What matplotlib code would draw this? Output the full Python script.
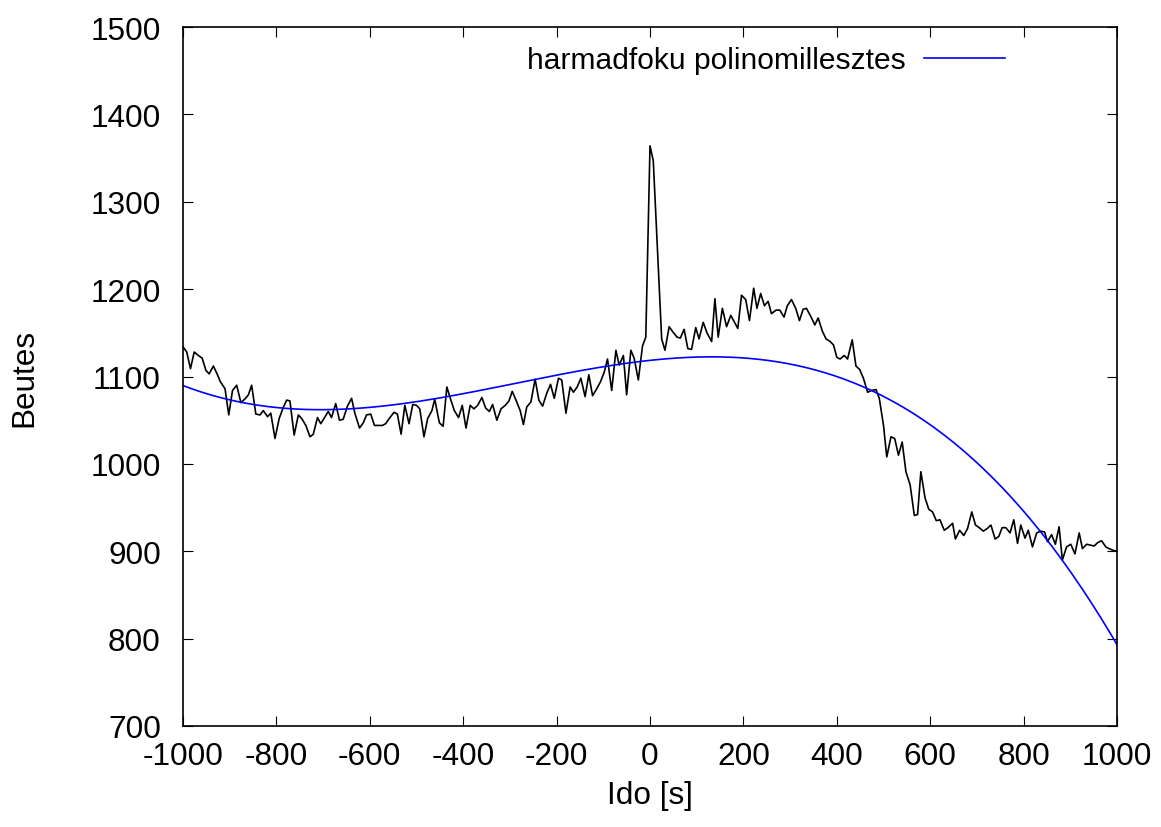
import numpy as np
import matplotlib
matplotlib.use("Agg")
import matplotlib.pyplot as plt

plt.rcParams['font.family'] = ['Liberation Sans', 'DejaVu Sans']
plt.rcParams['axes.unicode_minus'] = False

# Measured counts (Beutes) vs time (Ido [s])
ido = [-1000, -992, -984, -976, -967, -959, -951, -944, -935, -927, -920, -910, -902, -894, -885,
       -876, -866, -860, -853, -844, -835, -828, -819, -812, -803, -794, -785, -778, -771, -762,
       -753, -746, -737, -728, -721, -712, -705, -698, -689, -682, -673, -665, -657, -648, -639,
       -632, -622, -614, -607, -598, -590, -583, -573, -566, -557, -548, -541, -533, -525, -516,
       -508, -500, -493, -484, -476, -467, -461, -451, -443, -435, -427, -419, -410, -402, -394,
       -385, -377, -369, -360, -352, -344, -337, -328, -319, -310, -302, -295, -287, -278, -271,
       -264, -255, -246, -238, -230, -221, -213, -205, -196, -189, -180, -171, -164, -156, -148,
       -139, -131, -123, -114, -106, -98, -91, -82, -73, -66, -57, -50, -41, -34, -25,
       -16, -9, 0, 7, 25, 32, 41, 49, 58, 65, 73, 81, 89, 98, 105,
       114, 122, 132, 139, 146, 155, 164, 173, 181, 188, 196, 205, 213, 222, 229,
       237, 245, 253, 260, 270, 278, 287, 294, 303, 312, 320, 328, 335, 345, 353,
       360, 369, 377, 386, 393, 400, 407, 416, 423, 433, 441, 449, 457, 466, 474,
       484, 491, 500, 507, 516, 524, 532, 540, 548, 557, 566, 573, 580, 589, 597,
       605, 613, 621, 630, 638, 648, 654, 663, 672, 680, 689, 697, 705, 714, 722,
       730, 739, 747, 754, 762, 771, 779, 787, 794, 803, 810, 819, 828, 837, 845,
       851, 860, 868, 876, 883, 892, 901, 910, 919, 926, 935, 943, 951, 959, 967,
       976, 983, 992, 1000]
beutes = [1134, 1128, 1109, 1128, 1124, 1121, 1107, 1103, 1112, 1103, 1094, 1086, 1056, 1084, 1090,
          1070, 1075, 1079, 1090, 1057, 1056, 1061, 1054, 1058, 1029, 1052, 1065, 1073, 1072, 1033,
          1056, 1052, 1044, 1031, 1034, 1053, 1046, 1052, 1060, 1053, 1069, 1050, 1051, 1066, 1075,
          1058, 1041, 1047, 1056, 1057, 1044, 1044, 1044, 1046, 1053, 1059, 1057, 1034, 1067, 1046,
          1068, 1067, 1063, 1031, 1052, 1061, 1074, 1047, 1043, 1088, 1074, 1061, 1053, 1067, 1041,
          1067, 1063, 1067, 1076, 1064, 1060, 1068, 1050, 1063, 1067, 1072, 1083, 1073, 1061, 1045,
          1065, 1071, 1097, 1073, 1066, 1081, 1091, 1075, 1098, 1096, 1058, 1088, 1082, 1088, 1098,
          1077, 1102, 1078, 1086, 1094, 1105, 1120, 1084, 1130, 1113, 1124, 1079, 1130, 1121, 1096,
          1135, 1145, 1364, 1347, 1143, 1130, 1157, 1151, 1145, 1144, 1154, 1132, 1131, 1156, 1143,
          1162, 1150, 1140, 1189, 1145, 1178, 1157, 1170, 1162, 1155, 1193, 1188, 1164, 1201, 1178,
          1195, 1181, 1186, 1172, 1176, 1176, 1168, 1181, 1188, 1178, 1164, 1177, 1178, 1168, 1159,
          1167, 1152, 1143, 1140, 1136, 1122, 1120, 1124, 1120, 1142, 1112, 1108, 1098, 1082, 1084,
          1085, 1075, 1044, 1008, 1031, 1029, 1010, 1025, 991, 976, 941, 942, 991, 961, 948,
          945, 935, 936, 924, 927, 932, 914, 924, 918, 926, 945, 930, 927, 923, 926,
          930, 914, 917, 927, 927, 921, 936, 909, 930, 915, 924, 905, 921, 923, 922,
          911, 919, 908, 928, 890, 905, 908, 897, 921, 903, 908, 907, 906, 910, 912,
          905, 903, 901, 900]

xticks = [-1000, -800, -600, -400, -200, 0, 200, 400, 600, 800, 1000]
yticks = [700, 800, 900, 1000, 1100, 1200, 1300, 1400, 1500]
legend_label = "harmadfoku polinomillesztes"

fig = plt.figure(figsize=(11.61, 8.28), dpi=100)
ax = fig.add_axes([183/1161, 1-727/828, 934/1161, 699/828])

ax.plot(ido, beutes, color='black', lw=1.2, label='_nolegend_')

coef = np.polyfit(ido, beutes, 3)
xs = np.linspace(-1000, 1000, 400)
ax.plot(xs, np.polyval(coef, xs), color='#0000ff', lw=1.2, label=legend_label)

ax.set_xlim(-1000, 1000)
ax.set_ylim(700, 1500)
ax.set_xticks(xticks)
ax.set_yticks(yticks)
ax.tick_params(direction='in', length=7, width=0.8, top=True, right=True,
               labelsize=22.7)
ax.tick_params(axis='x', pad=11)
ax.tick_params(axis='y', pad=16)
for s in ax.spines.values():
    s.set_linewidth(1.2)

ax.set_xlabel("Ido [s]", fontsize=22.7)
ax.set_ylabel("Beutes", fontsize=22.7)
ax.xaxis.set_label_coords(0.5, (727-796)/699)
ax.xaxis.label.set_va('center')
ax.yaxis.set_label_coords((24-183)/934, 0.5)
ax.yaxis.label.set_va('center')

leg = ax.legend(loc='upper right', bbox_to_anchor=((1005-183)/934, 1 - (47-28)/699),
                frameon=False, markerfirst=False, fontsize=21.6, handlelength=2.7,
                handletextpad=0.6, borderpad=0, borderaxespad=0)

fig.savefig("out.png", dpi=100)
